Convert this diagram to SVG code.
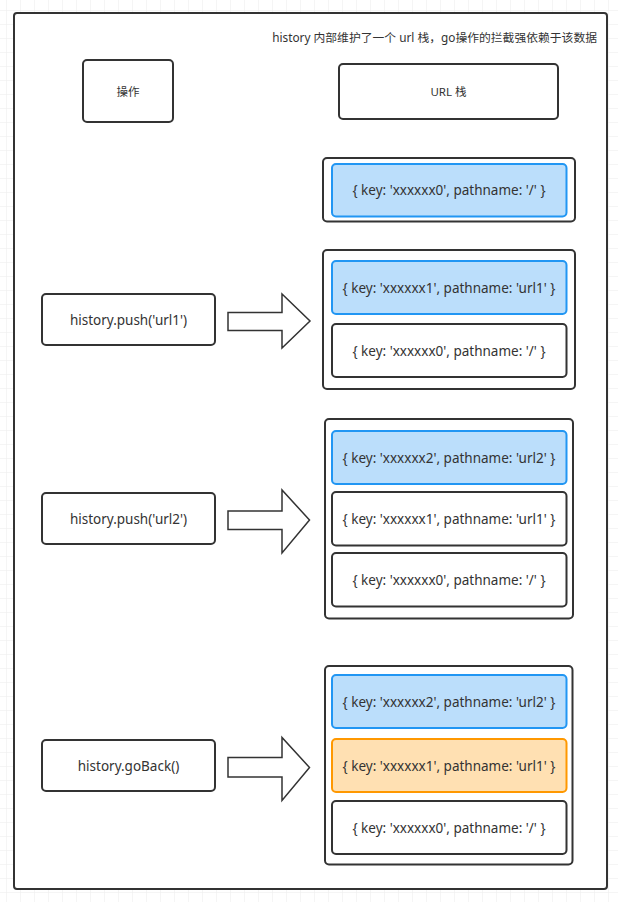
<svg xmlns="http://www.w3.org/2000/svg" width="618" height="902" viewBox="0 0 618 902">
  <defs>
    <pattern id="grid" x="6" y="10" width="14" height="14" patternUnits="userSpaceOnUse">
      <path d="M0 0H14M0 0V14" fill="none" stroke="#ebebeb" stroke-width="1"/>
    </pattern>
    <style>
      .box { fill: #ffffff; stroke: #333333; stroke-width: 2; }
      .blue { fill: #bbdefb; stroke: #2196f3; stroke-width: 2; }
      .orange { fill: #ffe0b2; stroke: #ff9800; stroke-width: 2; }
      .arrow { fill: #ffffff; stroke: #333333; stroke-width: 1.5; stroke-linejoin: miter; }
      text { font-family: "Noto Sans", "Noto Sans CJK SC", sans-serif; fill: #333333; text-anchor: middle; dominant-baseline: central; }
      .t11 { font-size: 11.5px; }
      .ttl { font-size: 11.8px; }
      .t13 { font-size: 13.5px; }
      .t14 { font-size: 13.5px; }
    </style>
  </defs>
  <rect x="0" y="0" width="618" height="902" fill="#ffffff"/>
  <rect x="0" y="0" width="618" height="902" fill="url(#grid)"/>

  <g id="frame">
    <rect x="14" y="13" width="593" height="876" rx="3" class="box"/>
    <text x="597" y="37" class="ttl" style="text-anchor:end">history 内部维护了一个 url 栈，go操作的拦截强依赖于该数据</text>
  </g>

  <g id="op-header">
    <rect x="83" y="60" width="90" height="62" rx="4" class="box"/>
    <text x="128" y="91" class="t11">操作</text>
  </g>
  <g id="url-header">
    <rect x="339" y="64" width="219" height="55" rx="4" class="box"/>
    <text x="448.5" y="91.5" class="t11">URL 栈</text>
  </g>

  <g id="stack0">
    <rect x="323" y="158" width="252" height="63.5" rx="4" class="box"/>
    <rect x="332" y="164" width="234.5" height="52.5" rx="4" class="blue"/>
    <text x="449" y="190" class="t13">{ key: 'xxxxxx0', pathname: '/' }</text>
  </g>

  <g id="op-push1">
    <rect x="42" y="294" width="173" height="51" rx="4" class="box"/>
    <text x="128.5" y="319.5" class="t14">history.push('url1')</text>
  </g>
  <g id="stack1">
    <rect x="323" y="250" width="252" height="139" rx="4" class="box"/>
    <rect x="332" y="261" width="234.5" height="53" rx="4" class="blue"/>
    <text x="449" y="287.5" class="t13">{ key: 'xxxxxx1', pathname: 'url1' }</text>
    <rect x="332" y="324" width="234.5" height="53" rx="4" class="box"/>
    <text x="449" y="350.5" class="t13">{ key: 'xxxxxx0', pathname: '/' }</text>
  </g>

  <g id="op-push2">
    <rect x="42" y="493" width="173" height="51" rx="4" class="box"/>
    <text x="128.5" y="518.5" class="t14">history.push('url2')</text>
  </g>
  <g id="stack2">
    <rect x="325" y="419" width="248" height="199.5" rx="4" class="box"/>
    <rect x="332" y="431" width="234.5" height="53" rx="4" class="blue"/>
    <text x="449" y="457.5" class="t13">{ key: 'xxxxxx2', pathname: 'url2' }</text>
    <rect x="332" y="492" width="234.5" height="53.5" rx="4" class="box"/>
    <text x="449" y="518.5" class="t13">{ key: 'xxxxxx1', pathname: 'url1' }</text>
    <rect x="332" y="553" width="234.5" height="53.5" rx="4" class="box"/>
    <text x="449" y="579.5" class="t13">{ key: 'xxxxxx0', pathname: '/' }</text>
  </g>

  <g id="op-goback">
    <rect x="42" y="740" width="173" height="51" rx="4" class="box"/>
    <text x="128.5" y="765.5" class="t14">history.goBack()</text>
  </g>
  <g id="stack3">
    <rect x="325" y="666" width="247.5" height="198.5" rx="4" class="box"/>
    <rect x="332" y="675" width="234.5" height="53" rx="4" class="blue"/>
    <text x="449" y="701.5" class="t13">{ key: 'xxxxxx2', pathname: 'url2' }</text>
    <rect x="332" y="739" width="234.5" height="53" rx="4" class="orange"/>
    <text x="449" y="765.5" class="t13">{ key: 'xxxxxx1', pathname: 'url1' }</text>
    <rect x="332" y="801" width="234.5" height="53" rx="4" class="box"/>
    <text x="449" y="827.5" class="t13">{ key: 'xxxxxx0', pathname: '/' }</text>
  </g>

  <g id="connectors">
    <polygon class="arrow" points="228,312.5 282,312.5 282,294 310,321 282,348 282,330.5 228,330.5"/>
    <polygon class="arrow" points="228,511 282,511 282,490 309.5,520 282,553 282,529.5 228,529.5"/>
    <polygon class="arrow" points="228,757.5 282,757.5 282,737.5 309.5,767.5 282,800.5 282,777 228,777"/>
  </g>
</svg>
